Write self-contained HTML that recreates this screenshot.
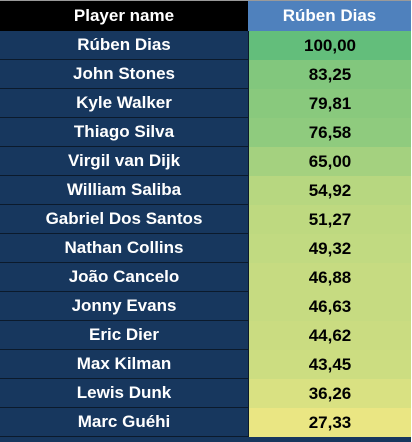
<!DOCTYPE html>
<html><head><meta charset="utf-8"><style>
body{margin:0;width:412px;height:441px;background:#fff;overflow:hidden;font-family:"Liberation Sans",sans-serif;font-weight:bold;}
#wrap{position:absolute;left:0;top:0;width:411px;height:441px;background:#17375e;border-top:1px solid #9a9a9a;}
.cell{position:absolute;display:flex;align-items:center;justify-content:center;font-size:17px;box-sizing:border-box;}
</style></head><body>
<div id="wrap"></div>
<script>
const players=["Rúben Dias","John Stones","Kyle Walker","Thiago Silva","Virgil van Dijk","William Saliba","Gabriel Dos Santos","Nathan Collins","João Cancelo","Jonny Evans","Eric Dier","Max Kilman","Lewis Dunk","Marc Guéhi"];
const values=[100.00,83.25,79.81,76.58,65.00,54.92,51.27,49.32,46.88,46.63,44.62,43.45,36.26,27.33];
const headers=["Player name","Rúben Dias"];
const wrap=document.getElementById('wrap');
const split=248,rowH=29,top0=30;
function mk(x,y,w,h,txt,bg,col){const d=document.createElement('div');d.className='cell';d.style.left=x+'px';d.style.top=y+'px';d.style.width=w+'px';d.style.height=h+'px';d.style.background=bg;d.style.color=col;d.textContent=txt;wrap.appendChild(d);return d;}
const h1=mk(0,0,split,top0,headers[0],'#000','#fff');


const h2=mk(split,0,411-split,top0,headers[1],'#4f81bd','#fff');


const mn=Math.min(...values),mx=Math.max(...values);
const lo=[234,230,131],hi=[99,190,123];
values.forEach((v,i)=>{
 const t=(v-mn)/(mx-mn);
 const c=lo.map((a,k)=>Math.round(a+(hi[k]-a)*t));
 const y=top0+i*rowH;
 const n=mk(0,y,split,rowH,players[i],'#17375e','#fff');
 n.style.borderBottom='1px solid #0b1a2c';
 
 
 const c2=mk(split,y,411-split,rowH,v.toFixed(2).replace('.',','),'rgb('+c.join(',')+')','#000');
 c2.style.borderLeft='1px solid #0b1a2c';
 
 
});
</script>
</body></html>
